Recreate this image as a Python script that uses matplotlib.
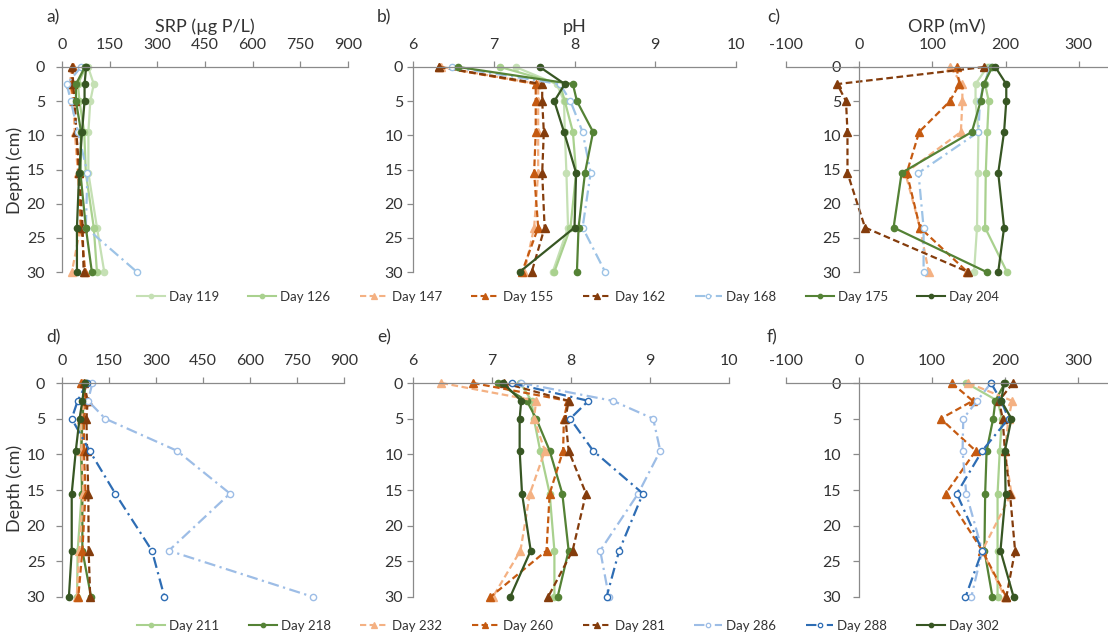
import matplotlib
matplotlib.use("Agg")
import matplotlib.pyplot as plt

plt.rcParams['font.family'] = ['Lato', 'DejaVu Sans']
plt.rcParams['axes.unicode_minus'] = False

# sampling depths (cm)
depth = [0, 2.5, 5, 9.5, 15.5, 23.5, 30]

days_top = ['Day 119', 'Day 126', 'Day 147', 'Day 155', 'Day 162', 'Day 168', 'Day 175', 'Day 204']
days_bot = ['Day 211', 'Day 218', 'Day 232', 'Day 260', 'Day 281', 'Day 286', 'Day 288', 'Day 302']

# SRP (ug P/L), one row per day
srp_top = [
    [82, 100, 89, 83, 83, 110, 133],
    [75, 50, 55, 70, 75, 100, 110],
    [30, 25, 35, 40, 50, 58, 31],
    [35, 28, 38, 45, 52, 60, 73],
    [33, 35, 40, 45, 55, 65, 68],
    [60, 15, 28, 50, 80, 75, 236],
    [72, 44, 44, 60, 58, 75, 94],
    [76, 71, 71, 63, 54, 47, 47],
]
srp_bot = [
    [70, 68, 62, 60, 63, 50, 48],
    [75, 70, 65, 62, 65, 65, 93],
    [65, 72, 62, 62, 68, 55, 47],
    [62, 78, 70, 70, 75, 65, 52],
    [70, 82, 78, 80, 84, 85, 90],
    [97, 83, 138, 367, 536, 341, 802],
    [79, 50, 31, 88, 170, 287, 327],
    [72, 65, 56, 44, 31, 31, 22],
]

# pH
ph_top = [
    [7.27, 7.78, 7.87, 7.88, 7.90, 7.92, 7.73],
    [7.08, 7.82, 7.88, 7.98, 8.02, 7.95, 7.75],
    [6.35, 7.55, 7.55, 7.55, 7.55, 7.50, 7.38],
    [6.32, 7.52, 7.52, 7.52, 7.50, 7.55, 7.35],
    [6.32, 7.60, 7.60, 7.62, 7.60, 7.63, 7.47],
    [6.48, 7.82, 7.95, 8.10, 8.20, 8.10, 8.38],
    [6.56, 7.98, 8.03, 8.23, 8.13, 8.05, 8.03],
    [7.57, 7.88, 7.75, 7.87, 8.02, 8.00, 7.32],
]
ph_bot = [
    [7.36, 7.50, 7.53, 7.61, 7.73, 7.79, 7.79],
    [7.07, 7.44, 7.56, 7.73, 7.89, 7.97, 7.83],
    [6.36, 7.56, 7.53, 7.67, 7.48, 7.36, 7.01],
    [6.76, 7.96, 7.91, 7.90, 7.73, 7.69, 6.98],
    [7.15, 7.97, 7.93, 7.97, 8.19, 8.02, 7.71],
    [7.37, 8.53, 9.04, 9.13, 8.85, 8.37, 8.48],
    [7.25, 8.22, 7.99, 8.28, 8.91, 8.61, 8.45],
    [7.14, 7.37, 7.35, 7.35, 7.38, 7.49, 7.23],
]

# ORP (mV)
orp_top = [
    [175, 159, 159, 163, 162, 161, 157],
    [178, 172, 177, 175, 173, 172, 202],
    [124, 141, 141, 139, 63, 83, 95],
    [133, 137, 124, 82, 65, 83, 148],
    [171, -30, -18, -16, -16, 8, 149],
    [180, 170, 165, 163, 81, 88, 88],
    [182, 170, 166, 154, 58, 47, 174],
    [186, 201, 201, 198, 190, 198, 190],
]
orp_bot = [
    [147, 190, 196, 193, 190, 190, 190],
    [200, 187, 184, 175, 173, 172, 183],
    [150, 210, 205, 200, 209, 169, 200],
    [127, 156, 112, 160, 119, 169, 202],
    [211, 192, 197, 200, 207, 214, 202],
    [181, 162, 143, 142, 147, 169, 154],
    [181, 195, 205, 169, 134, 169, 146],
    [199, 195, 209, 200, 201, 194, 212],
]

# line styles per position in the day list
DASH = (0, (3, 1.6))
DASHDOT = (0, (5, 2, 1, 2))
styles_top = [
    dict(color='#c5e0b4', ls='-', marker='o', mfc='#c5e0b4'),
    dict(color='#a9d18e', ls='-', marker='o', mfc='#a9d18e'),
    dict(color='#f4b183', ls=DASH, marker='^', mfc='#f4b183'),
    dict(color='#c55a11', ls=DASH, marker='^', mfc='#c55a11'),
    dict(color='#843c0c', ls=DASH, marker='^', mfc='#843c0c'),
    dict(color='#9dc3e6', ls=DASHDOT, marker='o', mfc='white'),
    dict(color='#548235', ls='-', marker='o', mfc='#548235'),
    dict(color='#375623', ls='-', marker='o', mfc='#375623'),
]
styles_bot = [
    dict(color='#a9d18e', ls='-', marker='o', mfc='#a9d18e'),
    dict(color='#548235', ls='-', marker='o', mfc='#548235'),
    dict(color='#f4b183', ls=DASH, marker='^', mfc='#f4b183'),
    dict(color='#c55a11', ls=DASH, marker='^', mfc='#c55a11'),
    dict(color='#843c0c', ls=DASH, marker='^', mfc='#843c0c'),
    dict(color='#9dbde6', ls=DASHDOT, marker='o', mfc='white'),
    dict(color='#2e6db4', ls=DASHDOT, marker='o', mfc='white'),
    dict(color='#375623', ls='-', marker='o', mfc='#375623'),
]

AXC = '#8a8a8a'
TXT = '#333333'

W, H = 1108, 638
fig = plt.figure(figsize=(W / 100, H / 100), dpi=100)


def rect(x0, x1, y0, y1):
    return [x0 / W, 1 - y1 / H, (x1 - x0) / W, (y1 - y0) / H]


def panel(r, data, styles, xlim, xticks, spine_x, ylab_pad, title=None):
    ax = fig.add_axes(r)
    for vals, st in zip(data, styles):
        ms = 5.5 if st['marker'] == '^' else 4.5
        ax.plot(vals, depth, color=st['color'], linestyle=st['ls'], lw=1.6,
                marker=st['marker'], ms=ms, mfc=st['mfc'], mec=st['color'],
                mew=1.0, clip_on=False)
    ax.set_xlim(*xlim)
    ax.set_ylim(30, 0)
    ax.set_xticks(xticks)
    ax.set_yticks(range(0, 31, 5))
    ax.xaxis.tick_top()
    for s in ('right', 'bottom'):
        ax.spines[s].set_visible(False)
    ax.spines['left'].set_position(('data', spine_x))
    ax.spines['left'].set_bounds(0, 30)
    for s in ('left', 'top'):
        ax.spines[s].set_color(AXC)
        ax.spines[s].set_linewidth(0.9)
    ax.tick_params(axis='x', direction='out', length=4, width=0.9, color=AXC,
                   pad=7, labelsize=11.5, labelcolor=TXT)
    ax.tick_params(axis='y', direction='out', length=4, width=0.9, color=AXC,
                   pad=ylab_pad, labelsize=11.5, labelcolor=TXT)
    if title:
        ax.xaxis.set_label_position('top')
        ax.set_xlabel(title, fontsize=13, color=TXT, labelpad=4)
    ax.patch.set_alpha(0)
    return ax


srp_ticks = [0, 150, 300, 450, 600, 750, 900]
ph_ticks = [6, 7, 8, 9, 10]
orp_ticks = [-100, 0, 100, 200, 300]

# top row
panel(rect(62, 348, 67, 272), srp_top, styles_top, (0, 900), srp_ticks, 0, 8, 'SRP (µg P/L)')
panel(rect(413, 736, 67, 272), ph_top, styles_top, (6, 10), ph_ticks, 6, 3, 'pH')
panel(rect(786, 1108, 67, 272), orp_top, styles_top, (-100, 340), orp_ticks, 0, 9, 'ORP (mV)')

# bottom row
panel(rect(62, 344, 383, 597), srp_bot, styles_bot, (0, 900), srp_ticks, 0, 8)
panel(rect(413, 729, 383, 597), ph_bot, styles_bot, (6, 10), ph_ticks, 6, 3)
panel(rect(786, 1107, 383, 597), orp_bot, styles_bot, (-100, 340), orp_ticks, 0, 9)

# panel letters and shared y labels
for lab, x, y in [('a)', 46, 17), ('b)', 377, 17), ('c)', 767, 17),
                  ('d)', 46, 337), ('e)', 377, 337), ('f)', 767, 337)]:
    fig.text(x / W, 1 - y / H, lab, fontsize=12.5, color=TXT, va='center')
fig.text(15 / W, 1 - 170 / H, 'Depth (cm)', rotation=90, fontsize=13,
         color=TXT, va='center', ha='center')
fig.text(15 / W, 1 - 488 / H, 'Depth (cm)', rotation=90, fontsize=13,
         color=TXT, va='center', ha='center')


def legend(days, styles, y):
    handles = []
    for d, st in zip(days, styles):
        ms = 4.0 if st['marker'] == '^' else 3.2
        h, = plt.plot([], [], color=st['color'], linestyle=st['ls'], lw=1.5,
                      marker=st['marker'], ms=ms, mfc=st['mfc'],
                      mec=st['color'], mew=0.9)
        handles.append(h)
    fig.legend(handles, days, loc='center', bbox_to_anchor=(568 / W, 1 - y / H),
               ncol=8, frameon=False, fontsize=9.5, handlelength=2.1,
               handletextpad=0.3, columnspacing=2.25, labelcolor=TXT)


legend(days_top, styles_top, 297)
legend(days_bot, styles_bot, 626)

fig.savefig('out.png', dpi=100)
